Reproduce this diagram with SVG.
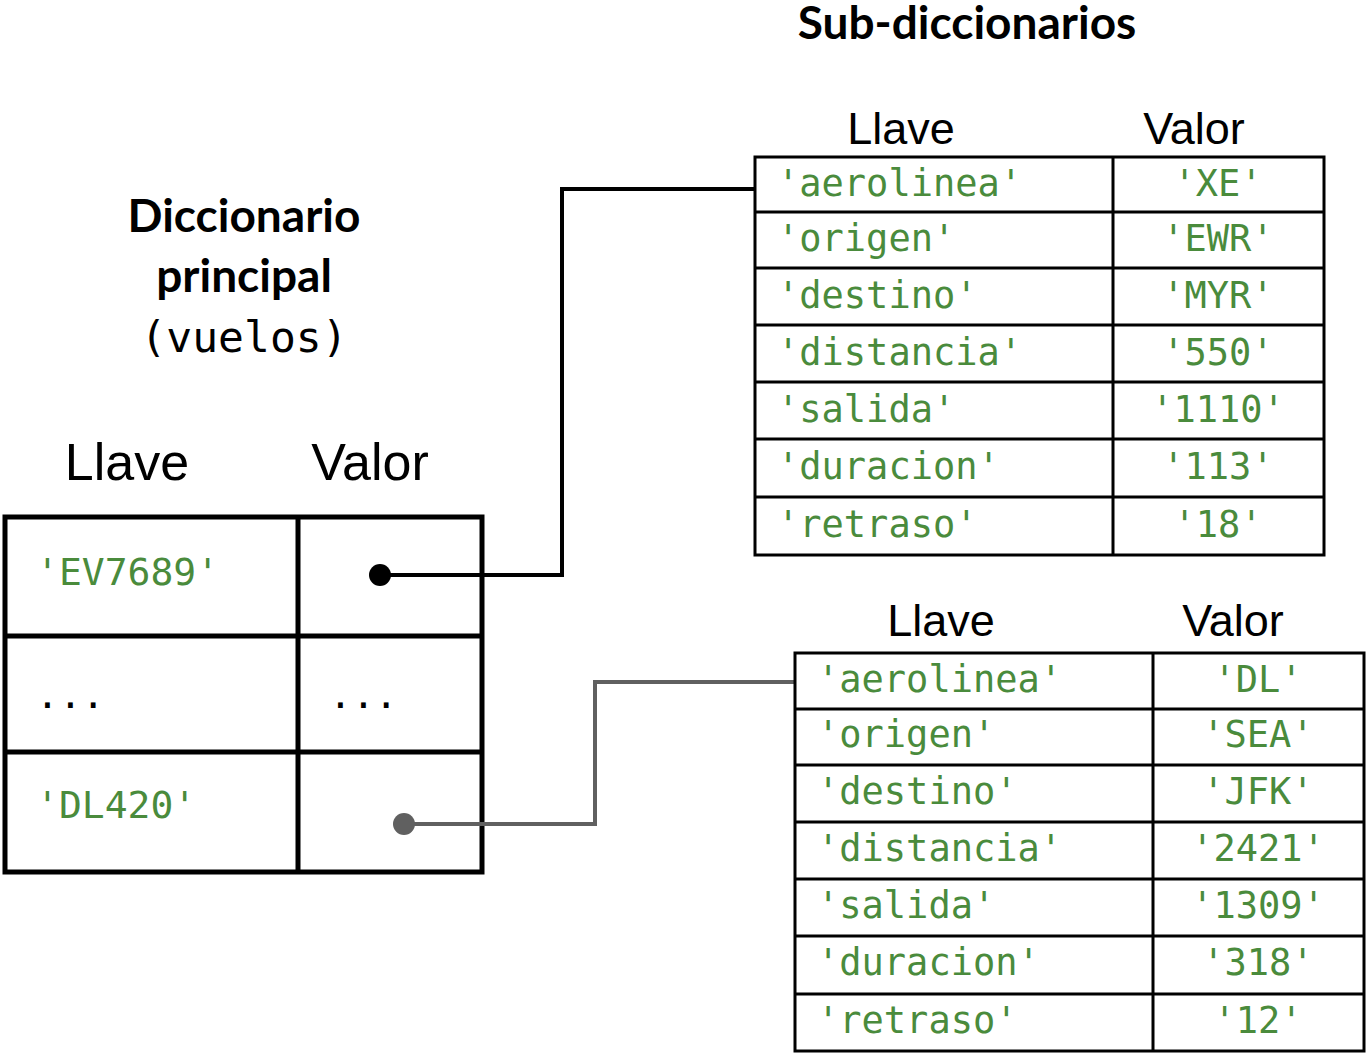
<svg xmlns="http://www.w3.org/2000/svg" width="1368" height="1058" viewBox="0 0 1368 1058">
<style>
.title{font-family:Lato,"Open Sans",sans-serif;font-weight:bold;font-size:46px;fill:#000;text-anchor:middle}
.hdr{font-family:"Liberation Sans",Arial,sans-serif;fill:#000;text-anchor:middle}
.hm{font-size:52px}
.hs{font-size:45px}
.mono{font-family:"DejaVu Sans Mono","Liberation Mono",monospace}
.g{fill:#4a8b3c}
.cell{fill:#fff;stroke:#000;stroke-width:3}
.ms{font-size:37px}
.mm{font-size:38px}
</style>
<rect width="1368" height="1058" fill="#fff"/>
<text class="title" x="967" y="39">Sub-diccionarios</text>
<g id="main-title">
<text class="title" x="244" y="232">Diccionario</text>
<text class="title" x="244" y="292">principal</text>
<text class="mono" x="244" y="352" font-size="43" text-anchor="middle">(vuelos)</text>
</g>
<g id="main">
<text class="hdr hm" x="127" y="480">Llave</text>
<text class="hdr hm" x="370" y="480">Valor</text>
<rect x="5" y="517" width="477" height="355" fill="none" stroke="#000" stroke-width="5"/>
<line x1="298" y1="517" x2="298" y2="872" stroke="#000" stroke-width="5"/>
<line x1="5" y1="636" x2="482" y2="636" stroke="#000" stroke-width="5"/>
<line x1="5" y1="752" x2="482" y2="752" stroke="#000" stroke-width="5"/>
<text class="mono mm g" x="36" y="585">'EV7689'</text>
<text class="mono mm" x="36" y="708">...</text>
<text class="mono mm" x="329" y="708">...</text>
<text class="mono mm g" x="36" y="818">'DL420'</text>
</g>
<g id="connectors">
<polyline points="380,575 562,575 562,189 755,189" fill="none" stroke="#000" stroke-width="4"/>
<circle cx="380" cy="575" r="11" fill="#000"/>
<polyline points="404,824 595,824 595,682 795,682" fill="none" stroke="#606060" stroke-width="4"/>
<circle cx="404" cy="824" r="11" fill="#606060"/>
</g>
<g id="sub1">
<text class="hdr hs" x="901" y="144">Llave</text>
<text class="hdr hs" x="1194" y="144">Valor</text>
<rect class="cell" x="755" y="157" width="569" height="398"/>
<g stroke="#000" stroke-width="3">
<line x1="1113" y1="157" x2="1113" y2="555"/>
<line x1="755" y1="212" x2="1324" y2="212"/>
<line x1="755" y1="268" x2="1324" y2="268"/>
<line x1="755" y1="325" x2="1324" y2="325"/>
<line x1="755" y1="382" x2="1324" y2="382"/>
<line x1="755" y1="439" x2="1324" y2="439"/>
<line x1="755" y1="497" x2="1324" y2="497"/>
</g>
<g class="mono ms g">
<text x="777" y="196">'aerolinea'</text>
<text x="777" y="251">'origen'</text>
<text x="777" y="308">'destino'</text>
<text x="777" y="365">'distancia'</text>
<text x="777" y="422">'salida'</text>
<text x="777" y="479">'duracion'</text>
<text x="777" y="537">'retraso'</text>
</g>
<g class="mono ms g" text-anchor="middle">
<text x="1218" y="196">'XE'</text>
<text x="1218" y="251">'EWR'</text>
<text x="1218" y="308">'MYR'</text>
<text x="1218" y="365">'550'</text>
<text x="1218" y="422">'1110'</text>
<text x="1218" y="479">'113'</text>
<text x="1218" y="537">'18'</text>
</g>
</g>
<g id="sub2">
<text class="hdr hs" x="941" y="636">Llave</text>
<text class="hdr hs" x="1233" y="636">Valor</text>
<rect class="cell" x="795" y="653" width="569" height="398"/>
<g stroke="#000" stroke-width="3">
<line x1="1153" y1="653" x2="1153" y2="1051"/>
<line x1="795" y1="709" x2="1364" y2="709"/>
<line x1="795" y1="765" x2="1364" y2="765"/>
<line x1="795" y1="822" x2="1364" y2="822"/>
<line x1="795" y1="879" x2="1364" y2="879"/>
<line x1="795" y1="936" x2="1364" y2="936"/>
<line x1="795" y1="994" x2="1364" y2="994"/>
</g>
<g class="mono ms g">
<text x="817" y="692">'aerolinea'</text>
<text x="817" y="747">'origen'</text>
<text x="817" y="804">'destino'</text>
<text x="817" y="861">'distancia'</text>
<text x="817" y="918">'salida'</text>
<text x="817" y="975">'duracion'</text>
<text x="817" y="1033">'retraso'</text>
</g>
<g class="mono ms g" text-anchor="middle">
<text x="1258" y="692">'DL'</text>
<text x="1258" y="747">'SEA'</text>
<text x="1258" y="804">'JFK'</text>
<text x="1258" y="861">'2421'</text>
<text x="1258" y="918">'1309'</text>
<text x="1258" y="975">'318'</text>
<text x="1258" y="1033">'12'</text>
</g>
</g>
</svg>
